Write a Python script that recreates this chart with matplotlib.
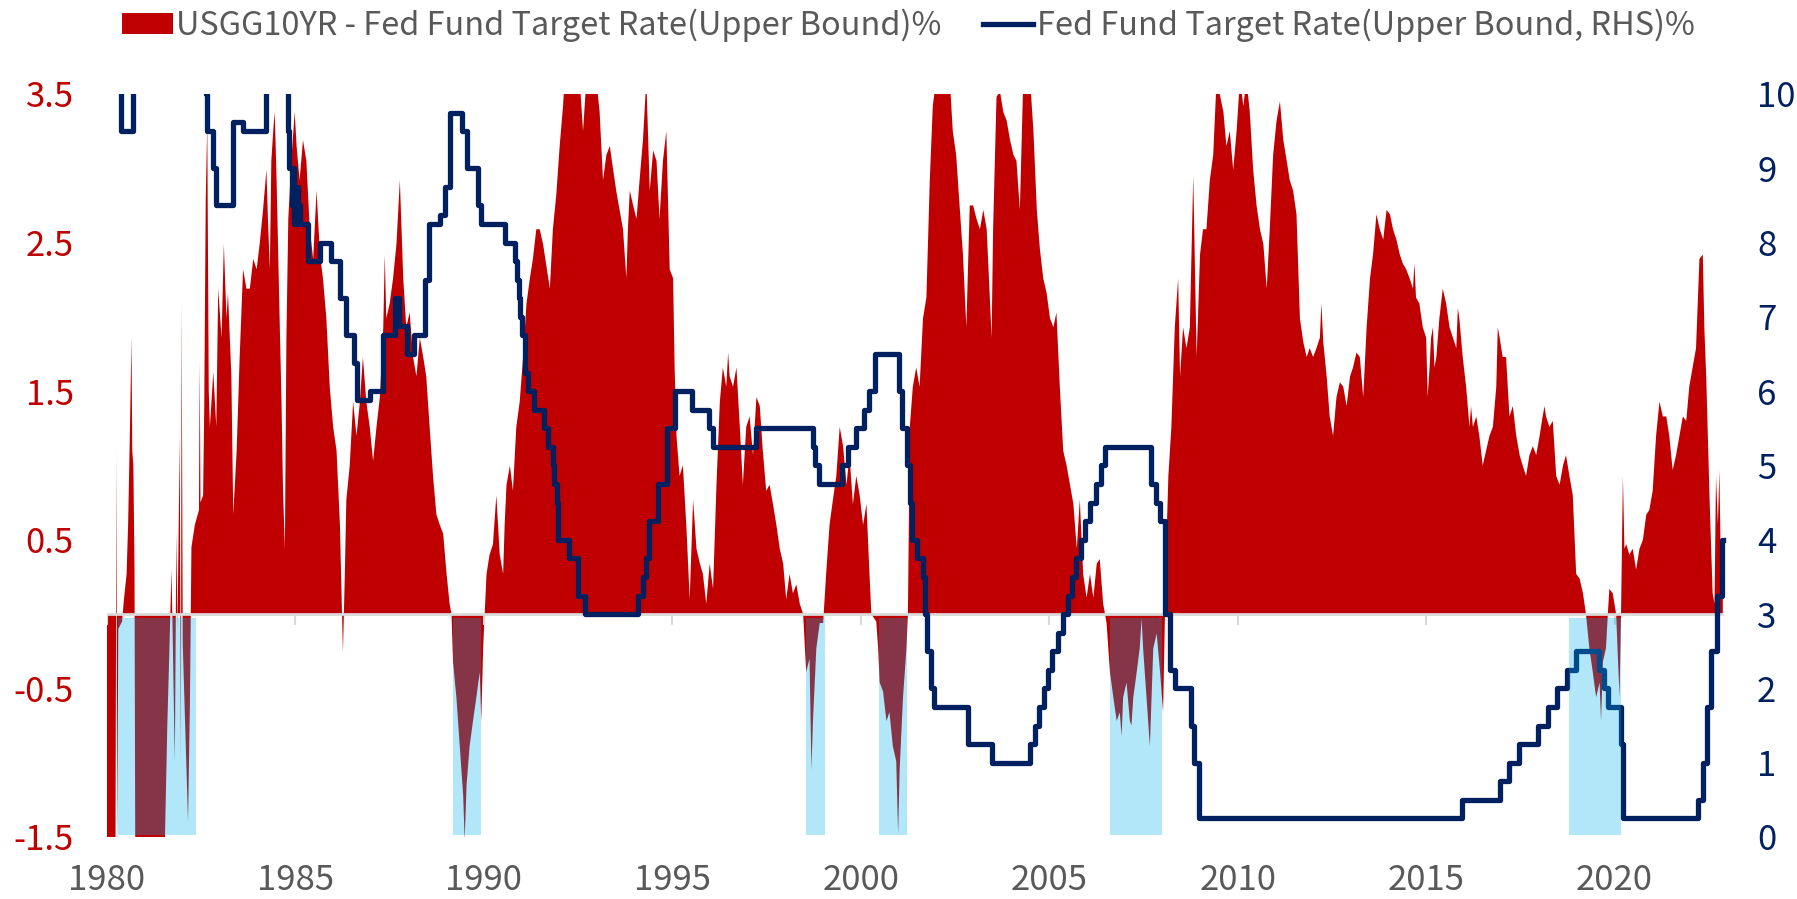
import matplotlib
matplotlib.use("Agg")
import matplotlib.pyplot as plt
from matplotlib.patches import Patch
from matplotlib.lines import Line2D

plt.rcParams['font.family'] = ['Noto Sans CJK TC', 'DejaVu Sans']

# spread: USGG10YR minus fed funds upper bound (LHS, %)
spread_dates = [
    1980.00, 1980.22, 1980.25, 1980.27, 1980.30, 1980.40, 1980.45, 1980.52, 1980.56, 1980.61,
    1980.65, 1980.67, 1980.70, 1980.73, 1980.75, 1980.90, 1981.20, 1981.50, 1981.53, 1981.60,
    1981.66, 1981.71, 1981.74, 1981.80, 1981.84, 1981.87, 1981.93, 1981.96, 1981.98, 1982.01,
    1982.08, 1982.15, 1982.20, 1982.24, 1982.33, 1982.44, 1982.46, 1982.48, 1982.55, 1982.58,
    1982.62, 1982.66, 1982.70, 1982.73, 1982.82, 1982.90, 1982.95, 1983.04, 1983.10, 1983.17,
    1983.21, 1983.30, 1983.35, 1983.44, 1983.52, 1983.61, 1983.70, 1983.79, 1983.88, 1983.97,
    1984.05, 1984.14, 1984.23, 1984.27, 1984.32, 1984.36, 1984.41, 1984.45, 1984.50, 1984.58,
    1984.63, 1984.67, 1984.72, 1984.76, 1984.81, 1984.89, 1984.98, 1985.03, 1985.11, 1985.20,
    1985.29, 1985.38, 1985.47, 1985.56, 1985.65, 1985.73, 1985.82, 1985.91, 1986.00, 1986.09,
    1986.18, 1986.26, 1986.31, 1986.35, 1986.44, 1986.53, 1986.62, 1986.71, 1986.79, 1986.88,
    1986.97, 1987.06, 1987.15, 1987.24, 1987.33, 1987.37, 1987.41, 1987.50, 1987.59, 1987.68,
    1987.77, 1987.86, 1987.94, 1988.03, 1988.12, 1988.21, 1988.30, 1988.39, 1988.47, 1988.56,
    1988.65, 1988.74, 1988.83, 1988.92, 1989.01, 1989.09, 1989.14, 1989.18, 1989.27, 1989.36,
    1989.45, 1989.49, 1989.54, 1989.62, 1989.71, 1989.80, 1989.89, 1989.93, 1989.98, 1990.02,
    1990.07, 1990.15, 1990.24, 1990.33, 1990.42, 1990.51, 1990.55, 1990.60, 1990.69, 1990.77,
    1990.86, 1990.95, 1991.04, 1991.13, 1991.22, 1991.30, 1991.39, 1991.48, 1991.57, 1991.75,
    1991.83, 1991.92, 1992.01, 1992.10, 1992.14, 1992.54, 1992.63, 1992.72, 1992.98, 1993.07,
    1993.16, 1993.25, 1993.34, 1993.43, 1993.51, 1993.60, 1993.69, 1993.78, 1993.82, 1993.87,
    1993.96, 1994.05, 1994.13, 1994.22, 1994.31, 1994.40, 1994.49, 1994.58, 1994.66, 1994.75,
    1994.84, 1994.93, 1995.02, 1995.06, 1995.11, 1995.19, 1995.28, 1995.37, 1995.46, 1995.55,
    1995.64, 1995.73, 1995.81, 1995.90, 1995.99, 1996.08, 1996.17, 1996.26, 1996.34, 1996.43,
    1996.48, 1996.52, 1996.61, 1996.70, 1996.79, 1996.87, 1996.96, 1997.05, 1997.14, 1997.23,
    1997.32, 1997.40, 1997.49, 1997.58, 1997.67, 1997.76, 1997.85, 1997.94, 1998.02, 1998.11,
    1998.20, 1998.29, 1998.38, 1998.47, 1998.55, 1998.64, 1998.69, 1998.73, 1998.82, 1998.91,
    1999.00, 1999.08, 1999.17, 1999.26, 1999.35, 1999.44, 1999.53, 1999.62, 1999.70, 1999.79,
    1999.88, 1999.97, 2000.06, 2000.15, 2000.23, 2000.28, 2000.41, 2000.46, 2000.50, 2000.59,
    2000.68, 2000.76, 2000.85, 2000.94, 2000.99, 2001.03, 2001.12, 2001.21, 2001.25, 2001.30,
    2001.38, 2001.47, 2001.56, 2001.65, 2001.74, 2001.83, 2001.91, 2002.00, 2002.36, 2002.44,
    2002.53, 2002.62, 2002.71, 2002.80, 2002.89, 2002.98, 2003.07, 2003.16, 2003.25, 2003.34,
    2003.43, 2003.47, 2003.51, 2003.60, 2003.69, 2003.78, 2003.87, 2003.96, 2004.05, 2004.13,
    2004.22, 2004.31, 2004.49, 2004.58, 2004.67, 2004.75, 2004.84, 2004.93, 2005.02, 2005.11,
    2005.19, 2005.28, 2005.37, 2005.46, 2005.55, 2005.64, 2005.73, 2005.81, 2005.90, 2005.99,
    2006.08, 2006.17, 2006.26, 2006.34, 2006.43, 2006.48, 2006.52, 2006.61, 2006.70, 2006.79,
    2006.87, 2006.92, 2006.96, 2007.05, 2007.14, 2007.18, 2007.23, 2007.32, 2007.40, 2007.45,
    2007.49, 2007.58, 2007.67, 2007.71, 2007.76, 2007.85, 2007.94, 2008.02, 2008.07, 2008.11,
    2008.16, 2008.24, 2008.33, 2008.42, 2008.47, 2008.55, 2008.64, 2008.73, 2008.82, 2008.91,
    2009.00, 2009.08, 2009.17, 2009.26, 2009.35, 2009.44, 2009.62, 2009.70, 2009.79, 2009.88,
    2009.97, 2010.06, 2010.15, 2010.23, 2010.32, 2010.41, 2010.50, 2010.59, 2010.68, 2010.77,
    2010.85, 2010.94, 2011.03, 2011.12, 2011.21, 2011.30, 2011.38, 2011.47, 2011.56, 2011.65,
    2011.74, 2011.83, 2011.91, 2012.00, 2012.09, 2012.18, 2012.22, 2012.27, 2012.36, 2012.44,
    2012.53, 2012.62, 2012.71, 2012.80, 2012.89, 2012.98, 2013.06, 2013.15, 2013.24, 2013.33,
    2013.42, 2013.51, 2013.59, 2013.68, 2013.77, 2013.86, 2013.95, 2014.04, 2014.12, 2014.21,
    2014.30, 2014.38, 2014.47, 2014.56, 2014.65, 2014.69, 2014.73, 2014.82, 2014.91, 2015.00,
    2015.04, 2015.09, 2015.13, 2015.18, 2015.22, 2015.27, 2015.35, 2015.44, 2015.53, 2015.62,
    2015.71, 2015.80, 2015.84, 2015.88, 2015.97, 2016.06, 2016.15, 2016.19, 2016.24, 2016.33,
    2016.41, 2016.50, 2016.59, 2016.68, 2016.77, 2016.86, 2016.90, 2016.95, 2017.03, 2017.12,
    2017.21, 2017.30, 2017.39, 2017.48, 2017.56, 2017.65, 2017.74, 2017.83, 2017.92, 2018.01,
    2018.09, 2018.14, 2018.18, 2018.27, 2018.36, 2018.45, 2018.54, 2018.63, 2018.71, 2018.80,
    2018.89, 2018.98, 2019.07, 2019.16, 2019.24, 2019.33, 2019.42, 2019.51, 2019.60, 2019.64,
    2019.69, 2019.77, 2019.82, 2019.86, 2019.95, 2020.04, 2020.13, 2020.17, 2020.22, 2020.26,
    2020.31, 2020.39, 2020.48, 2020.57, 2020.66, 2020.75, 2020.84, 2020.92, 2021.01, 2021.10,
    2021.19, 2021.28, 2021.37, 2021.45, 2021.54, 2021.63, 2021.72, 2021.81, 2021.90, 2021.98,
    2022.07, 2022.16, 2022.25, 2022.34, 2022.38, 2022.43, 2022.52, 2022.60, 2022.65, 2022.69,
    2022.74, 2022.78, 2022.82, 2022.87,
]
spread_vals = [
    -2.6, -2.2, 1.1, -1.6, -0.1, -0.05, 0.1, 0.27, 0.6, 1.26,
    1.86, 1.1, 1.0, 0.3, -1.6, -3.5, -3.0, -2.0, -1.6, -0.75,
    -0.2, 0.3, -0.1, -1.0, 0.55, -0.1, 1.2, -1.0, 2.1, -0.2,
    -0.8, -1.4, -0.6, 0.45, 0.6, 0.7, 1.7, 0.75, 0.8, 1.4,
    2.8, 3.3, 1.5, 1.26, 1.63, 1.26, 2.19, 1.86, 2.49, 1.99,
    2.16, 1.60, 0.67, 1.10, 1.73, 2.32, 2.19, 2.19, 2.39, 2.32,
    2.49, 2.72, 2.99, 2.66, 2.32, 3.05, 3.25, 3.38, 2.92, 1.99,
    1.43, 0.83, 0.44, 1.86, 2.66, 3.05, 3.38, 3.15, 2.92, 3.19,
    3.05, 2.59, 2.39, 2.85, 2.42, 2.26, 1.99, 1.53, 1.26, 1.10,
    0.60, -0.26, 0.27, 0.77, 1.00, 1.43, 1.20, 1.43, 1.73, 1.43,
    1.26, 1.03, 1.26, 1.46, 1.93, 2.42, 1.99, 2.09, 2.26, 2.49,
    2.92, 2.26, 1.93, 2.03, 1.73, 1.60, 1.86, 1.73, 1.60, 1.26,
    0.93, 0.67, 0.60, 0.54, 0.27, 0.07, 0.0, -0.32, -0.56, -0.89,
    -1.22, -1.52, -1.15, -0.89, -0.72, -0.56, -0.39, -0.72, -0.23, 0.0,
    0.27, 0.40, 0.47, 0.80, 0.40, 0.27, 0.60, 0.87, 1.00, 0.83,
    1.26, 1.43, 1.73, 2.09, 2.26, 2.39, 2.59, 2.59, 2.49, 2.19,
    2.59, 2.82, 3.15, 3.42, 3.6, 3.6, 3.25, 3.6, 3.6, 3.38,
    2.92, 3.09, 3.15, 2.99, 2.85, 2.72, 2.59, 2.26, 2.59, 2.85,
    2.75, 2.66, 2.92, 3.19, 3.6, 2.85, 3.12, 3.05, 2.66, 3.05,
    3.25, 2.32, 2.26, 1.66, 1.20, 0.93, 1.00, 0.60, 0.10, 0.77,
    0.44, 0.34, 0.27, 0.07, 0.34, 0.17, 0.87, 1.43, 1.66, 1.53,
    1.76, 1.60, 1.53, 1.66, 1.26, 0.87, 1.26, 1.33, 1.07, 1.46,
    1.40, 1.10, 0.83, 0.87, 0.74, 0.60, 0.44, 0.34, 0.10, 0.27,
    0.14, 0.20, 0.07, 0.0, -0.39, -0.3, -1.05, -0.72, -0.23, -0.06,
    -0.06, 0.27, 0.60, 0.77, 0.93, 1.26, 1.13, 0.87, 1.07, 0.74,
    0.93, 0.80, 0.60, 0.74, 0.27, 0.0, -0.05, -0.23, -0.46, -0.52,
    -0.72, -0.66, -0.89, -0.99, -1.48, -1.05, -0.56, -0.23, 0.0, 1.26,
    1.53, 1.66, 1.53, 1.99, 2.13, 2.92, 3.42, 3.6, 3.6, 3.25,
    3.09, 2.75, 2.42, 1.93, 2.75, 2.75, 2.66, 2.59, 2.72, 2.59,
    2.09, 1.86, 2.59, 3.48, 3.52, 3.38, 3.32, 3.19, 3.09, 3.05,
    2.72, 3.6, 3.6, 3.25, 2.72, 2.46, 2.26, 2.16, 1.99, 1.93,
    2.03, 1.53, 1.10, 1.00, 0.87, 0.74, 0.44, 0.77, 0.27, 0.11,
    0.27, 0.11, 0.34, 0.37, 0.07, 0.0, -0.06, -0.39, -0.56, -0.72,
    -0.66, -0.82, -0.56, -0.46, -0.72, -0.75, -0.56, -0.39, -0.23, -0.03,
    -0.23, -0.56, -0.89, -0.59, -0.23, -0.13, -0.39, -0.66, 0.0, 0.5,
    0.93, 1.26, 1.93, 2.26, 1.60, 1.93, 1.79, 1.93, 2.95, 1.73,
    2.42, 2.59, 2.59, 2.92, 3.09, 3.6, 3.38, 3.15, 3.25, 2.99,
    3.25, 3.6, 3.42, 3.6, 3.38, 2.99, 2.75, 2.59, 2.49, 2.19,
    2.59, 3.09, 3.32, 3.45, 3.19, 3.05, 2.92, 2.85, 2.69, 1.99,
    1.83, 1.73, 1.79, 1.73, 1.79, 1.86, 2.09, 1.83, 1.60, 1.33,
    1.20, 1.46, 1.56, 1.53, 1.40, 1.60, 1.66, 1.76, 1.73, 1.46,
    1.93, 2.26, 2.42, 2.69, 2.59, 2.52, 2.72, 2.69, 2.59, 2.52,
    2.42, 2.36, 2.32, 2.26, 2.19, 2.36, 2.13, 2.09, 1.93, 1.86,
    1.46, 1.66, 1.86, 1.93, 1.66, 1.73, 1.99, 2.19, 2.09, 1.93,
    1.86, 1.79, 2.06, 1.99, 1.73, 1.53, 1.26, 1.40, 1.26, 1.33,
    1.20, 1.00, 1.10, 1.20, 1.26, 1.53, 1.93, 1.86, 1.73, 1.73,
    1.33, 1.40, 1.20, 1.07, 1.00, 0.93, 1.07, 1.13, 1.07, 1.20,
    1.33, 1.40, 1.33, 1.26, 1.30, 0.93, 0.87, 1.00, 1.07, 0.93,
    0.80, 0.27, 0.24, 0.14, 0.0, -0.23, -0.39, -0.56, -0.46, -0.72,
    -0.32, -0.23, 0.0, 0.17, 0.14, 0.0, -0.56, 0.0, 0.93, 0.44,
    0.47, 0.40, 0.44, 0.30, 0.44, 0.50, 0.67, 0.70, 0.83, 1.20,
    1.43, 1.33, 1.33, 1.20, 0.97, 1.07, 1.20, 1.33, 1.30, 1.53,
    1.66, 1.79, 2.39, 2.42, 1.93, 1.60, 0.77, 0.14, 0.07, 0.93,
    0.60, 0.97, 0.27, 0.10,
]

# fed funds target rate, upper bound (RHS, %), value in force from each date
ff_dates = [
    1980.00, 1980.38, 1980.69, 1980.85, 1981.30, 1981.80, 1982.30, 1982.55, 1982.60, 1982.63,
    1982.66, 1982.80, 1982.88, 1983.35, 1983.61, 1984.23, 1984.40, 1984.55, 1984.76, 1984.79,
    1984.84, 1984.90, 1984.93, 1984.96, 1984.99, 1985.02, 1985.05, 1985.08, 1985.12, 1985.34,
    1985.65, 1985.95, 1986.18, 1986.35, 1986.56, 1986.63, 1986.97, 1987.33, 1987.63, 1987.68,
    1987.71, 1987.75, 1987.81, 1987.95, 1988.15, 1988.43, 1988.55, 1988.83, 1988.96, 1989.10,
    1989.42, 1989.55, 1989.85, 1989.92, 1990.55, 1990.83, 1990.87, 1990.93, 1990.96, 1991.02,
    1991.09, 1991.18, 1991.33, 1991.60, 1991.70, 1991.83, 1991.85, 1991.93, 1991.97, 1992.27,
    1992.50, 1992.68, 1994.09, 1994.22, 1994.30, 1994.38, 1994.62, 1994.87, 1995.08, 1995.51,
    1995.97, 1996.08, 1997.23, 1998.74, 1998.79, 1998.88, 1999.49, 1999.65, 1999.88, 2000.08,
    2000.22, 2000.38, 2001.01, 2001.08, 2001.22, 2001.30, 2001.37, 2001.49, 2001.64, 2001.71,
    2001.76, 2001.85, 2001.95, 2002.85, 2003.48, 2004.49, 2004.61, 2004.72, 2004.86, 2004.96,
    2005.08, 2005.22, 2005.37, 2005.50, 2005.61, 2005.72, 2005.84, 2005.96, 2006.08, 2006.24,
    2006.36, 2006.49, 2007.71, 2007.83, 2007.95, 2008.06, 2008.08, 2008.21, 2008.33, 2008.77,
    2008.83, 2008.96, 2015.96, 2016.96, 2017.21, 2017.46, 2017.96, 2018.22, 2018.46, 2018.74,
    2018.97, 2019.58, 2019.72, 2019.83, 2020.17, 2020.21, 2022.21, 2022.34, 2022.46, 2022.57,
    2022.72, 2022.84, 2022.87,
]
ff_rates = [
    14.0, 9.5, 12.0, 18.0, 19.0, 14.0, 14.5, 12.0, 10.5, 10.0,
    9.5, 9.0, 8.5, 9.625, 9.5, 10.5, 11.0, 11.5, 10.5, 9.5,
    9.0, 8.5, 9.0, 8.25, 8.75, 8.25, 8.75, 8.5, 8.25, 7.75,
    8.0, 7.75, 7.25, 6.75, 6.375, 5.875, 6.0, 6.75, 7.25, 6.875,
    7.25, 6.875, 6.875, 6.5, 6.75, 7.5, 8.25, 8.375, 8.75, 9.75,
    9.5, 9.0, 8.5, 8.25, 8.0, 7.75, 7.5, 7.25, 7.0, 6.75,
    6.25, 6.0, 5.75, 5.5, 5.25, 5.0, 4.75, 4.5, 4.0, 3.75,
    3.25, 3.0, 3.25, 3.5, 3.75, 4.25, 4.75, 5.5, 6.0, 5.75,
    5.5, 5.25, 5.5, 5.25, 5.0, 4.75, 5.0, 5.25, 5.5, 5.75,
    6.0, 6.5, 6.0, 5.5, 5.0, 4.5, 4.0, 3.75, 3.5, 3.0,
    2.5, 2.0, 1.75, 1.25, 1.0, 1.25, 1.5, 1.75, 2.0, 2.25,
    2.5, 2.75, 3.0, 3.25, 3.5, 3.75, 4.0, 4.25, 4.5, 4.75,
    5.0, 5.25, 4.75, 4.5, 4.25, 3.5, 3.0, 2.25, 2.0, 1.5,
    1.0, 0.25, 0.5, 0.75, 1.0, 1.25, 1.5, 1.75, 2.0, 2.25,
    2.5, 2.25, 2.0, 1.75, 1.25, 0.25, 0.5, 1.0, 1.75, 2.5,
    3.25, 4.0, 4.0,
]

# curve inversion periods (shaded)
inv_start = [1980.30, 1989.18, 1998.55, 2000.47, 2006.61, 2018.80]
inv_end = [1982.37, 1989.93, 1999.04, 2001.23, 2007.98, 2020.17]

tick_years = [1980, 1985, 1990, 1995, 2000, 2005, 2010, 2015, 2020]
left_ticks = [-1.5, -0.5, 0.5, 1.5, 2.5, 3.5]
right_ticks = [0, 1, 2, 3, 4, 5, 6, 7, 8, 9, 10]

label_spread = "USGG10YR - Fed Fund Target Rate(Upper Bound)%"
label_ff = "Fed Fund Target Rate(Upper Bound, RHS)%"

RED = "#C00000"
NAVY = "#002060"
GREY_TXT = "#595959"
FS = 25
LEG_FS = 23.4

fig = plt.figure(figsize=(17.97, 8.99), dpi=100)
ax = fig.add_axes([107 / 1797, 1 - 837 / 899, (1739 - 107) / 1797, (837 - 94) / 899])
ax.set_xlim(1980, 2023.3)
ax.set_ylim(left_ticks[0], left_ticks[-1])

ax.fill_between(spread_dates, 0, spread_vals, color=RED, lw=0, zorder=1)

# category axis sitting at zero
end_year = spread_dates[-1]
ax.hlines(0, spread_dates[0], end_year, color="#D9D9D9", lw=2, zorder=2)
ax.vlines(tick_years, -0.07, 0, color="#D9D9D9", lw=1.5, zorder=2)

ax.set_yticks(left_ticks)
ax.set_yticklabels([f"{t:.1f}" for t in left_ticks])
ax.tick_params(axis="y", length=0, pad=24, labelsize=FS, labelcolor=RED)
ax.set_xticks(tick_years)
ax.set_xticklabels([str(y) for y in tick_years])
ax.tick_params(axis="x", length=0, pad=19, labelsize=FS, labelcolor=GREY_TXT)
for s in ax.spines.values():
    s.set_visible(False)

ax2 = ax.twinx()
ax2.set_ylim(right_ticks[0], right_ticks[-1])
ax2.step(ff_dates, ff_rates, where="post", color=NAVY, lw=3.8, zorder=2)
ax2.set_yticks(right_ticks)
ax2.tick_params(axis="y", length=0, pad=13, labelsize=FS, labelcolor=NAVY)
for s in ax2.spines.values():
    s.set_visible(False)

# shaded periods cover the negative half of the LHS scale
zero_frac = (0 - left_ticks[0]) / (left_ticks[-1] - left_ticks[0])
for a, b in zip(inv_start, inv_end):
    ax2.axvspan(a, b, ymin=0.003, ymax=zero_frac - 0.005, color="#00B0F0", alpha=0.3, lw=0, zorder=3)

handles = [Patch(facecolor=RED, edgecolor="none"), Line2D([0], [0], color=NAVY, lw=3.8)]
fig.legend(handles, [label_spread, label_ff], loc="center", bbox_to_anchor=(0.5056, 0.972),
           ncol=2, frameon=False, fontsize=LEG_FS, labelcolor=GREY_TXT,
           handlelength=1.56, handletextpad=0.12, columnspacing=1.26, handleheight=0.65)

fig.savefig("out.png", dpi=100)
